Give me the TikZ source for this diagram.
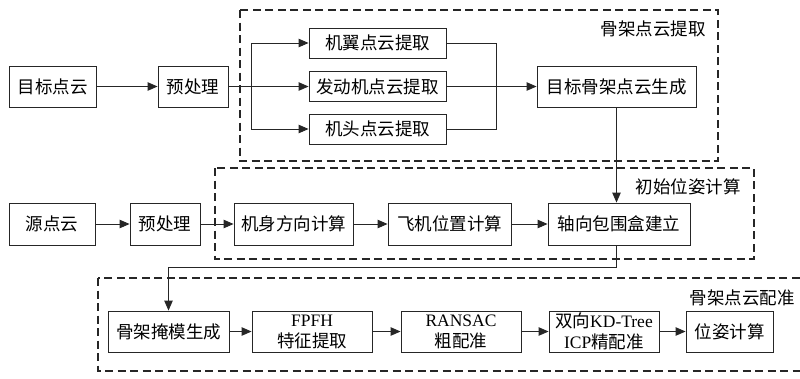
\documentclass[tikz,border=0pt]{standalone}
\usepackage{fontspec}
\setmainfont{Liberation Serif}
\newfontfamily\cjk{Noto Sans CJK SC}
\usetikzlibrary{arrows.meta,calc}
\begin{document}
\begin{tikzpicture}[x=1pt,y=-1pt,
  box/.style={draw=black!85,line width=0.9pt,inner sep=0pt,align=center,
    font=\fontsize{17.5}{21}\selectfont\cjk},
  grp/.style={draw=black!85,line width=1.4pt,dash pattern=on 8pt off 4.5pt},
  lbl/.style={inner sep=0pt,font=\fontsize{17.5}{21}\selectfont\cjk},
  conn/.style={draw=black!85,line width=0.9pt},
  arr/.style={conn,-{Triangle[length=10pt,width=8.5pt]}}]
\useasboundingbox (0,0) rectangle (800,378);
% group frames
\draw[grp] (240,10) rectangle (718,161);
\draw[grp] (215,168) rectangle (754,259);
\draw[grp] (98,278) rectangle (812,371);
\node[lbl] (L1) at (653,29) {骨架点云提取};
\node[lbl] (L2) at (688,187) {初始位姿计算};
\node[lbl] (L3) at (742,298) {骨架点云配准};
% row 1
\node[box,minimum width=87pt,minimum height=41pt] (t1) at (52.5,86.5) {目标点云};
\node[box,minimum width=70pt,minimum height=41pt] (p1) at (193,86.5) {预处理};
\node[box,minimum width=137pt,minimum height=30pt] (wing) at (377.5,43) {机翼点云提取};
\node[box,minimum width=137pt,minimum height=30pt] (eng) at (377.5,86.5) {发动机点云提取};
\node[box,minimum width=137pt,minimum height=30pt] (head) at (377.5,129) {机头点云提取};
\node[box,minimum width=159pt,minimum height=41pt] (tgt) at (616.5,86.5) {目标骨架点云生成};
% row 2
\node[box,minimum width=86pt,minimum height=42pt] (s) at (52,224) {源点云};
\node[box,minimum width=70pt,minimum height=42pt] (p2) at (165,224) {预处理};
\node[box,minimum width=119pt,minimum height=42pt] (body) at (293.5,224) {机身方向计算};
\node[box,minimum width=123pt,minimum height=42pt] (pos) at (449.5,224) {飞机位置计算};
\node[box,minimum width=142pt,minimum height=42pt] (aabb) at (619,224) {轴向包围盒建立};
% row 3
\node[box,minimum width=121pt,minimum height=41pt] (mask) at (168.5,331.5) {骨架掩模生成};
\node[box,minimum width=120pt,minimum height=41pt] (fpfh) at (312,331.5) {\rmfamily FPFH\\特征提取};
\node[box,minimum width=120pt,minimum height=41pt] (ransac) at (461,331.5) {\rmfamily RANSAC\\粗配准};
\node[box,minimum width=110pt,minimum height=41pt] (icp) at (604,331.5) {双向{\rmfamily KD-Tree}\\{\rmfamily ICP}精配准};
\node[box,minimum width=87pt,minimum height=41pt] (pose) at (729.5,331.5) {位姿计算};
% connectors row 1
\draw[arr] (t1) -- (p1);
\draw[arr] (p1) -- (eng);
\coordinate (b) at (251,86.5);
\draw[arr] (b) |- (wing.west);
\draw[arr] (b) |- (head.west);
\coordinate (m) at (496,86.5);
\draw[conn] (wing.east) -| (m);
\draw[conn] (head.east) -| (m);
\draw[arr] (eng) -- (tgt);
\draw[arr] (tgt.south) -- (tgt.south |- aabb.north);
% connectors row 2
\draw[arr] (s) -- (p2);
\draw[arr] (p2) -- (body);
\draw[arr] (body) -- (pos);
\draw[arr] (pos) -- (aabb);
\coordinate (turn) at (0,267);
\draw[arr] (tgt.south |- aabb.south) |- (turn -| mask.north) -- (mask.north);
% connectors row 3
\draw[arr] (mask) -- (fpfh);
\draw[arr] (fpfh) -- (ransac);
\draw[arr] (ransac) -- (icp);
\draw[arr] (icp) -- (pose);
\end{tikzpicture}
\end{document}
